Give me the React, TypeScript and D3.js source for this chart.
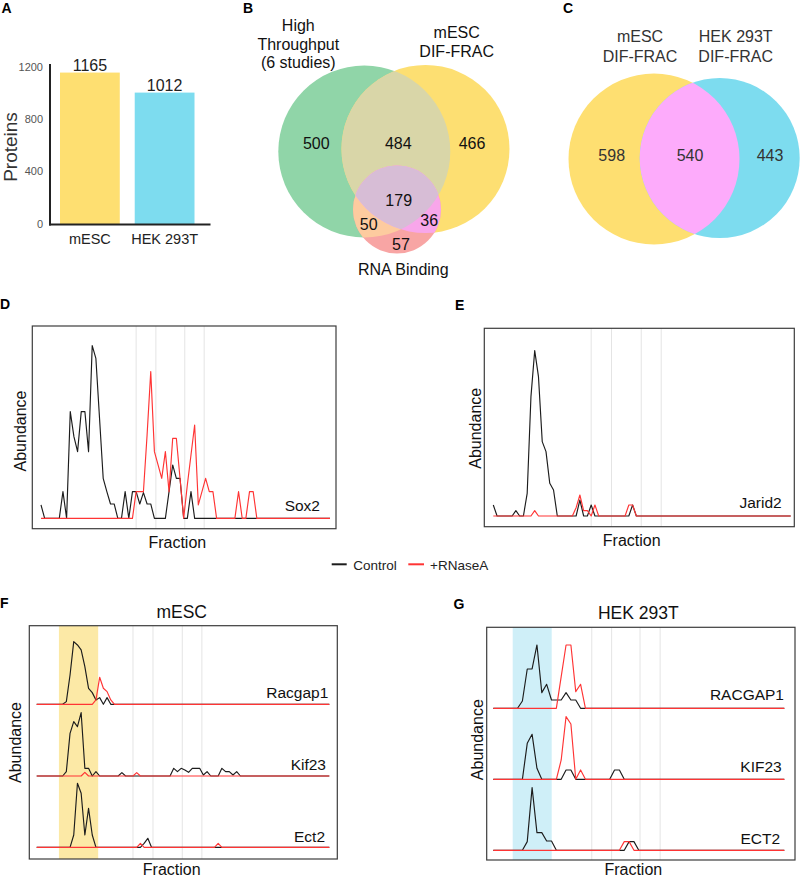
import React from 'react';
import * as d3 from 'd3';

const FONT = "'Liberation Sans', Arial, Helvetica, sans-serif";
const RED = '#FF3434';
const BLACK = '#1c1c1c';

// ---------- Panel A ----------
const barCategories = ['mESC', 'HEK 293T'];
const barValues = [1165, 1012];
const barColors = ['#FEDF71', '#7DDCEF'];
const barTicks = [0, 400, 800, 1200];

// ---------- Panel B / C ----------
const vennBSetLabels = [['High', 'Throughput', '(6 studies)'], ['mESC', 'DIF-FRAC'], ['RNA Binding']];
const vennBValues = [500, 484, 466, 179, 50, 36, 57];
const vennCSetLabels = [['mESC', 'DIF-FRAC'], ['HEK 293T', 'DIF-FRAC']];
const vennCValues = [598, 540, 443];

// ---------- Fraction profiles (mESC: 80 fractions, HEK 293T: 61 fractions) ----------
const sox2Control = [
  40, 0, 0, 0, 0, 0, 80, 0, 320, 245,
  200, 320, 320, 200, 518, 480, 300, 120, 80, 43,
  43, 0, 0, 80, 0, 80, 80, 43, 77, 43,
  43, 0, 0, 0, 0, 80, 160, 120, 120, 0,
  0, 80, 0, 0, 0, 0, 0, 0, 0, 0,
  0, 0, 0, 0, 0, 0, 0, 0, 0, 0,
  0, 0, 0, 0, 0, 0, 0, 0, 0, 0,
  0, 0, 0, 0, 0, 0, 0, 0, 0, 0,
];
const sox2RNase = [
  0, 0, 0, 0, 0, 0, 0, 0, 0, 0,
  0, 0, 0, 0, 0, 0, 0, 0, 0, 0,
  0, 0, 0, 0, 0, 0, 80, 80, 80, 250,
  440, 200, 160, 120, 200, 80, 240, 240, 120, 0,
  100, 190, 280, 40, 80, 120, 80, 80, 0, 0,
  0, 0, 0, 0, 80, 0, 0, 80, 80, 0,
  0, 0, 0, 0, 0, 0, 0, 0, 0, 0,
  0, 0, 0, 0, 0, 0, 0, 0, 0, 0,
];
const jarid2Control = [
  33, 0, 0, 0, 0, 0, 16, 0, 0, 68,
  358, 496, 418, 223, 193, 98, 78, 0, 0, 0,
  0, 0, 0, 48, 0, 0, 33, 0, 0, 0,
  0, 0, 0, 0, 0, 0, 0, 33, 0, 0,
  0, 0, 0, 0, 0, 0, 0, 0, 0, 0,
  0, 0, 0, 0, 0, 0, 0, 0, 0, 0,
  0, 0, 0, 0, 0, 0, 0, 0, 0, 0,
  0, 0, 0, 0, 0, 0, 0, 0, 0, 0,
];
const jarid2RNase = [
  0, 0, 0, 0, 0, 0, 0, 0, 0, 0,
  0, 16, 0, 0, 0, 0, 0, 0, 0, 0,
  0, 0, 25, 63, 16, 16, 0, 33, 0, 0,
  0, 0, 0, 0, 0, 0, 33, 33, 0, 0,
  0, 0, 0, 0, 0, 0, 0, 0, 0, 0,
  0, 0, 0, 0, 0, 0, 0, 0, 0, 0,
  0, 0, 0, 0, 0, 0, 0, 0, 0, 0,
  0, 0, 0, 0, 0, 0, 0, 0, 0, 0,
];
const mescRacgap1Control = [
  0, 0, 0, 0, 0, 0, 0, 0, 8, 88,
  188, 178, 163, 113, 48, 35, 13, 20, 0, 20,
  0, 0, 0, 0, 0, 0, 0, 0, 0, 0,
  0, 0, 0, 0, 0, 0, 0, 0, 0, 0,
  0, 0, 0, 0, 0, 0, 0, 0, 0, 0,
  0, 0, 0, 0, 0, 0, 0, 0, 0, 0,
  0, 0, 0, 0, 0, 0, 0, 0, 0, 0,
  0, 0, 0, 0, 0, 0, 0, 0, 0, 0,
];
const mescRacgap1RNase = [
  0, 0, 0, 0, 0, 0, 0, 0, 0, 0,
  0, 0, 0, 0, 0, 0, 13, 81, 48, 38,
  13, 0, 0, 0, 0, 0, 0, 0, 0, 0,
  0, 0, 0, 0, 0, 0, 0, 0, 0, 0,
  0, 0, 0, 0, 0, 0, 0, 0, 0, 0,
  0, 0, 0, 0, 0, 0, 0, 0, 0, 0,
  0, 0, 0, 0, 0, 0, 0, 0, 0, 0,
  0, 0, 0, 0, 0, 0, 0, 0, 0, 0,
];
const mescKif23Control = [
  0, 0, 0, 0, 0, 0, 0, 0, 13, 128,
  163, 148, 190, 23, 23, 0, 13, 0, 0, 0,
  0, 0, 0, 10, 0, 0, 0, 0, 0, 0,
  0, 0, 0, 0, 0, 0, 0, 23, 13, 23,
  18, 11, 23, 23, 23, 3, 13, 0, 0, 0,
  23, 13, 13, 3, 13, 0, 0, 0, 0, 0,
  0, 0, 0, 0, 0, 0, 0, 0, 0, 0,
  0, 0, 0, 0, 0, 0, 0, 0, 0, 0,
];
const mescKif23RNase = [
  0, 0, 0, 0, 0, 0, 0, 0, 0, 0,
  0, 0, 0, 11, 0, 0, 0, 0, 0, 0,
  0, 0, 0, 0, 0, 0, 0, 10, 0, 0,
  0, 0, 0, 0, 0, 0, 0, 0, 0, 0,
  0, 0, 0, 0, 0, 0, 0, 0, 0, 0,
  0, 0, 0, 0, 0, 0, 0, 0, 0, 0,
  0, 0, 0, 0, 0, 0, 0, 0, 0, 0,
  0, 0, 0, 0, 0, 0, 0, 0, 0, 0,
];
const mescEct2Control = [
  0, 0, 0, 0, 0, 0, 0, 0, 0, 0,
  37, 192, 162, 37, 117, 37, 0, 0, 0, 0,
  0, 0, 0, 0, 0, 0, 0, 0, 0, 12,
  27, 0, 0, 0, 0, 0, 0, 0, 0, 0,
  0, 0, 0, 0, 0, 0, 0, 0, 0, 0,
  0, 0, 0, 0, 0, 0, 0, 0, 0, 0,
  0, 0, 0, 0, 0, 0, 0, 0, 0, 0,
  0, 0, 0, 0, 0, 0, 0, 0, 0, 0,
];
const mescEct2RNase = [
  0, 0, 0, 0, 0, 0, 0, 0, 0, 0,
  0, 0, 0, 0, 0, 0, 0, 0, 0, 0,
  0, 0, 0, 0, 0, 0, 0, 0, 12, 0,
  0, 0, 0, 0, 0, 0, 0, 0, 0, 0,
  0, 0, 0, 0, 0, 0, 0, 0, 0, 12,
  0, 0, 0, 0, 0, 0, 0, 0, 0, 0,
  0, 0, 0, 0, 0, 0, 0, 0, 0, 0,
  0, 0, 0, 0, 0, 0, 0, 0, 0, 0,
];
const hekRacgap1Control = [
  0, 0, 0, 0, 0, 0, 22, 118, 118, 190,
  47, 72, 25, 25, 25, 47, 25, 25, 0, 0,
  0, 0, 0, 0, 0, 0, 0, 0, 0, 0,
  0, 0, 0, 0, 0, 0, 0, 0, 0, 0,
  0, 0, 0, 0, 0, 0, 0, 0, 0, 0,
  0, 0, 0, 0, 0, 0, 0, 0, 0, 0,
  0,
];
const hekRacgap1RNase = [
  0, 0, 0, 0, 0, 0, 0, 0, 0, 0,
  0, 0, 0, 0, 95, 190, 190, 50, 72, 0,
  0, 0, 0, 0, 0, 0, 0, 0, 0, 0,
  0, 0, 0, 0, 0, 0, 0, 0, 0, 0,
  0, 0, 0, 0, 0, 0, 0, 0, 0, 0,
  0, 0, 0, 0, 0, 0, 0, 0, 0, 0,
  0,
];
const hekKif23Control = [
  0, 0, 0, 0, 0, 0, 0, 108, 135, 33,
  0, 0, 0, 0, 0, 28, 28, 0, 0, 0,
  0, 0, 0, 0, 0, 28, 28, 0, 0, 0,
  0, 0, 0, 0, 0, 0, 0, 0, 0, 0,
  0, 0, 0, 0, 0, 0, 0, 0, 0, 0,
  0, 0, 0, 0, 0, 0, 0, 0, 0, 0,
  0,
];
const hekKif23RNase = [
  0, 0, 0, 0, 0, 0, 0, 0, 0, 0,
  0, 0, 0, 0, 58, 188, 166, 0, 28, 0,
  0, 0, 0, 0, 0, 0, 0, 0, 0, 0,
  0, 0, 0, 0, 0, 0, 0, 0, 0, 0,
  0, 0, 0, 0, 0, 0, 0, 0, 0, 0,
  0, 0, 0, 0, 0, 0, 0, 0, 0, 0,
  0,
];
const hekEct2Control = [
  0, 0, 0, 0, 0, 0, 0, 26, 188, 53,
  53, 28, 28, 0, 0, 0, 0, 0, 0, 0,
  0, 0, 0, 0, 0, 0, 0, 0, 26, 26,
  0, 0, 0, 0, 0, 0, 0, 0, 0, 0,
  0, 0, 0, 0, 0, 0, 0, 0, 0, 0,
  0, 0, 0, 0, 0, 0, 0, 0, 0, 0,
  0,
];
const hekEct2RNase = [
  0, 0, 0, 0, 0, 0, 0, 0, 0, 0,
  0, 0, 0, 0, 0, 0, 0, 0, 0, 0,
  0, 0, 0, 0, 0, 0, 0, 26, 26, 0,
  0, 0, 0, 0, 0, 0, 0, 0, 0, 0,
  0, 0, 0, 0, 0, 0, 0, 0, 0, 0,
  0, 0, 0, 0, 0, 0, 0, 0, 0, 0,
  0,
];

const mescGuides = [26, 31.4, 39.3, 44.6];
const hekGuides = [20.3, 24.4, 30.25, 34.4];
const mescBand = [6, 16.6];
const hekBand = [4, 12.04];
const mescRowLabels = ['Racgap1', 'Kif23', 'Ect2'];
const hekRowLabels = ['RACGAP1', 'KIF23', 'ECT2'];
const legendLabels = ['Control', '+RNaseA'];

// ---------- helpers ----------
type Row = { base: number; control: number[]; rnase: number[]; label: string; labelX: number; labelY: number };

function TracePanel(props: {
  box: [number, number, number, number];
  xRange: [number, number];
  n: number;
  guides: number[];
  band?: number[];
  bandColor?: string;
  rows: Row[];
  abX: number;
  abY: number;
  frX: number;
  frY: number;
}) {
  const { box, xRange, n, guides, band, bandColor, rows } = props;
  const [bx0, by0, bx1, by1] = box;
  const x = d3.scaleLinear().domain([0, n - 1]).range(xRange);
  return (
    <g>
      {band && (
        <rect x={x(band[0])} y={by0} width={x(band[1]) - x(band[0])} height={by1 - by0} fill={bandColor} />
      )}
      {guides.map((g, i) => (
        <line key={i} x1={x(g)} x2={x(g)} y1={by0} y2={by1} stroke="#e4e4e4" strokeWidth={1} />
      ))}
      {rows.map((r, ri) => {
        const y = d3.scaleLinear().domain([0, 300]).range([r.base, r.base - 100]);
        const line = d3
          .line<number>()
          .x((_, i) => x(i))
          .y((d) => y(d));
        return (
          <g key={ri}>
            <path d={line(r.control) || ''} fill="none" stroke={BLACK} strokeWidth={1.15} strokeLinejoin="round" />
            <path d={line(r.rnase) || ''} fill="none" stroke={RED} strokeWidth={1.15} strokeLinejoin="round" />
            <text x={r.labelX} y={r.labelY} textAnchor="end" fontSize={15.5} fill="#111">
              {r.label}
            </text>
          </g>
        );
      })}
      <rect x={bx0} y={by0} width={bx1 - bx0} height={by1 - by0} fill="none" stroke="#3c3c3c" strokeWidth={1.2} />
      <text transform={`translate(${props.abX},${props.abY}) rotate(-90)`} textAnchor="middle" fontSize={16} fill="#111">
        Abundance
      </text>
      <text x={props.frX} y={props.frY} textAnchor="middle" fontSize={16} fill="#111">
        Fraction
      </text>
    </g>
  );
}

function PanelA() {
  const x = d3.scaleBand<string>().domain(barCategories).range([60, 194.5]).paddingInner(0.2);
  const y = d3.scaleLinear().domain([0, 1200]).range([225, 68]);
  const bw = x.bandwidth();
  return (
    <g>
      {barCategories.map((c, i) => (
        <rect key={c} x={x(c)} y={y(barValues[i])} width={bw} height={y(0) - y(barValues[i])} fill={barColors[i]} />
      ))}
      {barCategories.map((c, i) => (
        <text key={'v' + c} x={(x(c) as number) + bw / 2} y={y(barValues[i]) - 1.8} textAnchor="middle" fontSize={16} fill="#222">
          {barValues[i]}
        </text>
      ))}
      {barCategories.map((c) => (
        <text key={'c' + c} x={(x(c) as number) + bw / 2} y={244.3} textAnchor="middle" fontSize={14.5} fill="#222">
          {c}
        </text>
      ))}
      {barTicks.map((t) => (
        <text key={t} x={43} y={y(t) + 2.6} textAnchor="end" fontSize={11} fill="#555">
          {t}
        </text>
      ))}
      <line x1={50} x2={50} y1={64} y2={225.5} stroke="#222" strokeWidth={2} />
      <line x1={49} x2={210.5} y1={224.5} y2={224.5} stroke="#222" strokeWidth={2} />
      <text transform="translate(16.7,147) rotate(-90)" textAnchor="middle" fontSize={19} fill="#333">
        Proteins
      </text>
    </g>
  );
}

function PanelB() {
  const A = { cx: 364.3, cy: 151.5, r: 86 };
  const B = { cx: 425.5, cy: 149, r: 84 };
  const C = { cx: 397, cy: 209.5, r: 44 };
  const pos: [number, number][] = [
    [316.3, 149.3],
    [398.3, 148.5],
    [472, 149.3],
    [398.7, 205.7],
    [368.7, 230],
    [429.2, 225.7],
    [401, 250],
  ];
  return (
    <g>
      <defs>
        <clipPath id="clipBA">
          <circle cx={A.cx} cy={A.cy} r={A.r} />
        </clipPath>
        <clipPath id="clipBB">
          <circle cx={B.cx} cy={B.cy} r={B.r} />
        </clipPath>
      </defs>
      <circle cx={A.cx} cy={A.cy} r={A.r} fill="#90D5A8" />
      <circle cx={B.cx} cy={B.cy} r={B.r} fill="#FDDF72" />
      <g clipPath="url(#clipBA)">
        <circle cx={B.cx} cy={B.cy} r={B.r} fill="#D9D6A8" />
      </g>
      <circle cx={C.cx} cy={C.cy} r={C.r} fill="#F8A5A4" />
      <g clipPath="url(#clipBA)">
        <circle cx={C.cx} cy={C.cy} r={C.r} fill="#FDCB9F" />
      </g>
      <g clipPath="url(#clipBB)">
        <circle cx={C.cx} cy={C.cy} r={C.r} fill="#F8A6EA" />
      </g>
      <g clipPath="url(#clipBA)">
        <g clipPath="url(#clipBB)">
          <circle cx={C.cx} cy={C.cy} r={C.r} fill="#D7BDD6" />
        </g>
      </g>
      {vennBValues.map((v, i) => (
        <text key={i} x={pos[i][0]} y={pos[i][1]} textAnchor="middle" fontSize={16} fill="#111">
          {v}
        </text>
      ))}
      {vennBSetLabels[0].map((t, i) => (
        <text key={'a' + i} x={298.3} y={30.7 + i * 18.8} textAnchor="middle" fontSize={16} fill="#111">
          {t}
        </text>
      ))}
      {vennBSetLabels[1].map((t, i) => (
        <text key={'b' + i} x={456.7} y={38.3 + i * 19} textAnchor="middle" fontSize={16} fill="#111">
          {t}
        </text>
      ))}
      <text x={403.3} y={275} textAnchor="middle" fontSize={16} fill="#111">
        {vennBSetLabels[2][0]}
      </text>
    </g>
  );
}

function PanelC() {
  const A = { cx: 654, cy: 159, r: 85.5 };
  const B = { cx: 719.7, cy: 158, r: 80 };
  const pos: [number, number][] = [
    [611.7, 160.7],
    [690, 160.7],
    [770, 160.7],
  ];
  return (
    <g>
      <defs>
        <clipPath id="clipCA">
          <circle cx={A.cx} cy={A.cy} r={A.r} />
        </clipPath>
      </defs>
      <circle cx={A.cx} cy={A.cy} r={A.r} fill="#FEDF71" />
      <circle cx={B.cx} cy={B.cy} r={B.r} fill="#7DDCEF" />
      <g clipPath="url(#clipCA)">
        <circle cx={B.cx} cy={B.cy} r={B.r} fill="#FDABFB" />
      </g>
      {vennCValues.map((v, i) => (
        <text key={i} x={pos[i][0]} y={pos[i][1]} textAnchor="middle" fontSize={16} fill="#333">
          {v}
        </text>
      ))}
      {vennCSetLabels.map((lines, k) =>
        lines.map((t, i) => (
          <text key={k + '-' + i} x={k === 0 ? 640 : 735.7} y={42.3 + i * 19.4} textAnchor="middle" fontSize={16} fill="#333">
            {t}
          </text>
        ))
      )}
    </g>
  );
}

function PanelLetters() {
  const letters: [string, number, number][] = [
    ['A', 1.5, 13],
    ['B', 243, 13],
    ['C', 563, 13],
    ['D', 0, 308.5],
    ['E', 455, 310],
    ['F', 0, 608.3],
    ['G', 453.5, 609.3],
  ];
  return (
    <g>
      {letters.map(([t, x, y]) => (
        <text key={t} x={x} y={y} fontSize={14} fontWeight="bold" fill="#000">
          {t}
        </text>
      ))}
    </g>
  );
}

function Legend() {
  return (
    <g>
      <line x1={331.7} x2={346.7} y1={564.3} y2={564.3} stroke={BLACK} strokeWidth={2} />
      <text x={353.3} y={570} fontSize={13.5} fill="#222">
        {legendLabels[0]}
      </text>
      <line x1={408.3} x2={424} y1={564.3} y2={564.3} stroke={RED} strokeWidth={2} />
      <text x={430} y={570} fontSize={13.5} fill="#222">
        {legendLabels[1]}
      </text>
    </g>
  );
}

export default function App() {
  return (
    <svg
      width={800}
      height={878}
      viewBox="0 0 800 878"
      style={{ position: 'absolute', left: 0, top: 0, display: 'block', background: '#fff' }}
      fontFamily={FONT}
    >
      <rect width={800} height={878} fill="#fff" />
      <PanelLetters />
      <PanelA />
      <PanelB />
      <PanelC />
      <TracePanel
        box={[32.3, 326, 336, 528.7]}
        xRange={[41, 330]}
        n={80}
        guides={mescGuides}
        rows={[{ base: 518.3, control: sox2Control, rnase: sox2RNase, label: 'Sox2', labelX: 320, labelY: 510.7 }]}
        abX={26}
        abY={431}
        frX={177.3}
        frY={548.3}
      />
      <TracePanel
        box={[484.3, 328.3, 794.3, 526.7]}
        xRange={[493.3, 790.7]}
        n={80}
        guides={mescGuides}
        rows={[{ base: 516, control: jarid2Control, rnase: jarid2RNase, label: 'Jarid2', labelX: 781.7, labelY: 508.3 }]}
        abX={480.7}
        abY={428.3}
        frX={631.7}
        frY={546}
      />
      <Legend />
      <text x={181.7} y={617.7} textAnchor="middle" fontSize={17.5} fill="#111">
        mESC
      </text>
      <TracePanel
        box={[29.3, 625.7, 337.3, 859]}
        xRange={[36.7, 329.3]}
        n={80}
        guides={mescGuides}
        band={mescBand}
        bandColor="#FCE9A6"
        rows={[
          { base: 704.3, control: mescRacgap1Control, rnase: mescRacgap1RNase, label: mescRowLabels[0], labelX: 328.3, labelY: 698.3 },
          { base: 776, control: mescKif23Control, rnase: mescKif23RNase, label: mescRowLabels[1], labelX: 326, labelY: 770 },
          { base: 847.3, control: mescEct2Control, rnase: mescEct2RNase, label: mescRowLabels[2], labelX: 325, labelY: 841.7 },
        ]}
        abX={20.7}
        abY={742.5}
        frX={171.7}
        frY={875}
      />
      <text x={638.3} y={619} textAnchor="middle" fontSize={17.5} fill="#111">
        HEK 293T
      </text>
      <TracePanel
        box={[486.7, 627.3, 795, 860]}
        xRange={[493.3, 784.3]}
        n={61}
        guides={hekGuides}
        band={hekBand}
        bandColor="#CFEFF8"
        rows={[
          { base: 708.3, control: hekRacgap1Control, rnase: hekRacgap1RNase, label: hekRowLabels[0], labelX: 784, labelY: 700 },
          { base: 779.3, control: hekKif23Control, rnase: hekKif23RNase, label: hekRowLabels[1], labelX: 781.7, labelY: 771.7 },
          { base: 850.3, control: hekEct2Control, rnase: hekEct2RNase, label: hekRowLabels[2], labelX: 780, labelY: 844 },
        ]}
        abX={482.7}
        abY={739.7}
        frX={633.3}
        frY={874.5}
      />
    </svg>
  );
}
